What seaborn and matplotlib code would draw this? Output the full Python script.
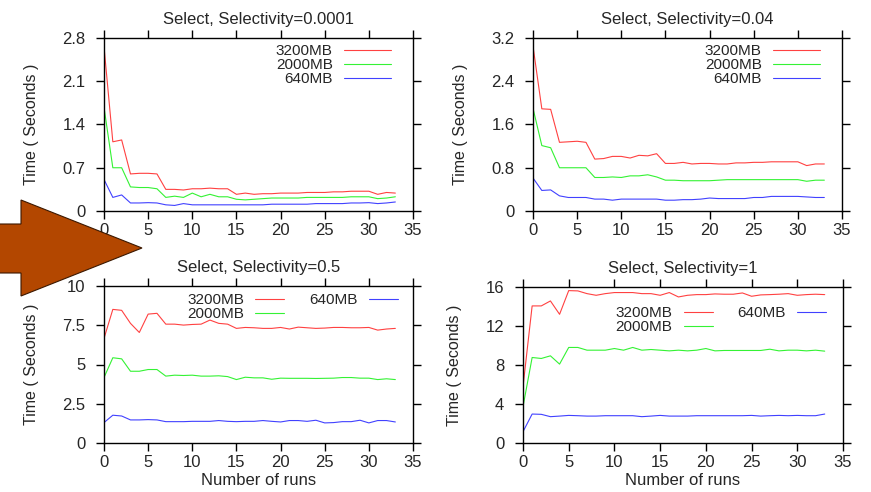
#!/usr/bin/env python3
#
# Select query run times over repeated runs, four selectivities
#
import numpy as np
import pandas as pd
import matplotlib
matplotlib.use('Agg')
import matplotlib.pyplot as plt
from matplotlib.patches import Polygon
import seaborn as sns

runs = list(range(34))
sizes = ['3200MB', '2000MB', '640MB']

# Selectivity = 0.0001
sel_0001_3200 = [2.66, 1.12, 1.15, 0.60, 0.61, 0.61, 0.60, 0.35, 0.35, 0.34,
                 0.36, 0.36, 0.37, 0.36, 0.36, 0.27, 0.29, 0.27, 0.28, 0.28,
                 0.29, 0.29, 0.29, 0.30, 0.30, 0.30, 0.31, 0.31, 0.32, 0.32,
                 0.32, 0.27, 0.30, 0.29]
sel_0001_2000 = [1.68, 0.70, 0.70, 0.39, 0.38, 0.38, 0.36, 0.22, 0.24, 0.22,
                 0.29, 0.23, 0.27, 0.23, 0.23, 0.19, 0.18, 0.19, 0.20, 0.21,
                 0.21, 0.21, 0.21, 0.22, 0.22, 0.22, 0.22, 0.22, 0.23, 0.23,
                 0.23, 0.20, 0.21, 0.23]
sel_0001_640 = [0.51, 0.22, 0.26, 0.13, 0.13, 0.135, 0.13, 0.10, 0.09, 0.12,
                0.10, 0.10, 0.10, 0.10, 0.10, 0.10, 0.10, 0.10, 0.10, 0.11,
                0.11, 0.11, 0.11, 0.11, 0.12, 0.12, 0.12, 0.12, 0.13, 0.13,
                0.135, 0.12, 0.13, 0.146]

# Selectivity = 0.04
sel_04_3200 = [3.05, 1.89, 1.88, 1.27, 1.28, 1.29, 1.27, 0.96, 0.97, 1.01,
               1.01, 0.98, 1.03, 1.02, 1.06, 0.88, 0.88, 0.90, 0.87, 0.88,
               0.88, 0.87, 0.87, 0.89, 0.89, 0.90, 0.90, 0.91, 0.91, 0.91,
               0.91, 0.84, 0.87, 0.87]
sel_04_2000 = [1.90, 1.21, 1.17, 0.80, 0.80, 0.80, 0.80, 0.62, 0.62, 0.63,
               0.62, 0.65, 0.65, 0.67, 0.63, 0.57, 0.57, 0.56, 0.56, 0.56,
               0.56, 0.57, 0.58, 0.58, 0.58, 0.58, 0.58, 0.58, 0.58, 0.58,
               0.58, 0.55, 0.57, 0.57]
sel_04_640 = [0.61, 0.38, 0.39, 0.28, 0.25, 0.25, 0.25, 0.22, 0.22, 0.20,
              0.22, 0.22, 0.22, 0.22, 0.22, 0.20, 0.20, 0.21, 0.21, 0.22,
              0.24, 0.23, 0.23, 0.23, 0.23, 0.25, 0.25, 0.27, 0.27, 0.27,
              0.27, 0.26, 0.25, 0.25]

# Selectivity = 0.5
sel_5_3200 = [6.66, 8.51, 8.45, 7.62, 7.04, 8.21, 8.26, 7.57, 7.57, 7.51,
              7.55, 7.57, 7.83, 7.62, 7.57, 7.30, 7.36, 7.34, 7.30, 7.30,
              7.36, 7.26, 7.38, 7.34, 7.30, 7.32, 7.36, 7.36, 7.34, 7.34,
              7.36, 7.19, 7.26, 7.30]
sel_5_2000 = [4.17, 5.43, 5.36, 4.57, 4.57, 4.68, 4.68, 4.26, 4.32, 4.30,
              4.32, 4.26, 4.26, 4.28, 4.23, 4.04, 4.19, 4.15, 4.15, 4.06,
              4.13, 4.12, 4.12, 4.12, 4.11, 4.12, 4.13, 4.17, 4.17, 4.13,
              4.13, 4.04, 4.09, 4.04]
sel_5_640 = [1.30, 1.77, 1.72, 1.47, 1.47, 1.49, 1.47, 1.36, 1.36, 1.36,
             1.38, 1.38, 1.38, 1.43, 1.38, 1.36, 1.38, 1.38, 1.43, 1.38,
             1.34, 1.43, 1.43, 1.38, 1.45, 1.28, 1.30, 1.36, 1.36, 1.45,
             1.28, 1.43, 1.43, 1.34]

# Selectivity = 1
sel_1_3200 = [5.77, 14.06, 14.06, 14.57, 13.20, 15.63, 15.60, 15.32, 15.15,
              15.32, 15.43, 15.43, 15.43, 15.32, 15.32, 15.15, 15.43, 14.98,
              15.15, 15.22, 15.22, 15.29, 15.26, 15.26, 15.39, 15.05, 15.19,
              15.22, 15.26, 15.32, 15.15, 15.22, 15.26, 15.22]
sel_1_2000 = [3.72, 8.77, 8.67, 8.94, 8.09, 9.80, 9.80, 9.52, 9.52, 9.52,
              9.69, 9.52, 9.80, 9.52, 9.59, 9.52, 9.45, 9.52, 9.45, 9.52,
              9.69, 9.45, 9.49, 9.49, 9.49, 9.49, 9.49, 9.62, 9.45, 9.52,
              9.52, 9.45, 9.52, 9.42]
sel_1_640 = [1.16, 2.97, 2.94, 2.70, 2.76, 2.83, 2.80, 2.76, 2.76, 2.80,
             2.80, 2.80, 2.80, 2.70, 2.76, 2.83, 2.76, 2.76, 2.76, 2.80,
             2.80, 2.80, 2.80, 2.80, 2.80, 2.83, 2.76, 2.80, 2.83, 2.80,
             2.83, 2.80, 2.80, 2.97]

titles = ['Select, Selectivity=0.0001', 'Select, Selectivity=0.04',
          'Select, Selectivity=0.5', 'Select, Selectivity=1']
series = [
    [sel_0001_3200, sel_0001_2000, sel_0001_640],
    [sel_04_3200, sel_04_2000, sel_04_640],
    [sel_5_3200, sel_5_2000, sel_5_640],
    [sel_1_3200, sel_1_2000, sel_1_640],
]
yticks = [
    [0, 0.7, 1.4, 2.1, 2.8],
    [0, 0.8, 1.6, 2.4, 3.2],
    [0, 2.5, 5, 7.5, 10],
    [0, 4, 8, 12, 16],
]
ytick_labels = [
    ['0', '0.7', '1.4', '2.1', '2.8'],
    ['0', '0.8', '1.6', '2.4', '3.2'],
    ['0', '2.5', '5', '7.5', '10'],
    ['0', '4', '8', '12', '16'],
]
xticks = [0, 5, 10, 15, 20, 25, 30, 35]

palette = {'3200MB': '#ff2020', '2000MB': '#10f010', '640MB': '#2020ff'}

sns.set_style('ticks')
plt.rcParams['font.family'] = ['Liberation Sans', 'DejaVu Sans']
fs = 12
leg_fs = 11

W, H = 871, 492
fig = plt.figure(figsize=(W / 100, H / 100), dpi=100)


def px_box(x0, x1, ytop, ybot):
    return [x0 / W, 1 - ybot / H, (x1 - x0) / W, (ybot - ytop) / H]


boxes = [
    px_box(104, 413, 38, 211),
    px_box(533, 842, 38, 211),
    px_box(104, 413, 286, 443),
    px_box(523, 843, 287, 443),
]

# legend settings per panel: ncol, anchor, handle length
leg_opts = [
    dict(ncol=1, bbox_to_anchor=(0.955, 1.01), handlelength=3.1),
    dict(ncol=1, bbox_to_anchor=(0.955, 1.01), handlelength=3.1),
    dict(ncol=2, bbox_to_anchor=(0.975, 1.005), handlelength=1.9),
    dict(ncol=2, bbox_to_anchor=(0.972, 0.925), handlelength=1.9),
]

for i in range(4):
    ax = fig.add_axes(boxes[i])
    df = pd.DataFrame({
        'run': runs * 3,
        'time': np.concatenate(series[i]),
        'size': np.repeat(sizes, len(runs)),
    })
    sns.lineplot(data=df, x='run', y='time', hue='size', hue_order=sizes,
                 palette=palette, linewidth=0.8, alpha=0.85, ax=ax)

    ax.set_xlim(0, 35)
    ax.set_ylim(yticks[i][0], yticks[i][-1])
    ax.set_xticks(xticks)
    ax.set_yticks(yticks[i])
    ax.set_yticklabels(ytick_labels[i])
    ax.tick_params(direction='out', length=5.5, width=1, top=True,
                   right=True, labelsize=fs, color='black')
    ax.tick_params(axis='x', pad=3)
    ax.tick_params(axis='y', pad=8)
    for s in ax.spines.values():
        s.set_visible(True)
        s.set_linewidth(1)
        s.set_color('black')
    ax.set_title(titles[i], fontsize=fs, pad=10)
    ax.set_ylabel('Time ( Seconds )', fontsize=11.5, labelpad=17)
    if i >= 2:
        ax.set_xlabel('Number of runs', fontsize=fs, labelpad=2)
    else:
        ax.set_xlabel('')

    handles, labels = ax.get_legend_handles_labels()
    ax.get_legend().remove()
    ax.legend(handles, labels, loc='upper right', frameon=False,
              markerfirst=False, borderpad=0, labelspacing=0.0,
              handletextpad=0.75, columnspacing=1.6, fontsize=leg_fs,
              **leg_opts[i])

# Big orange arrow pointing at the first panel
arrow_px = [(-3, 224), (21, 224), (21, 200), (142, 248), (21, 296),
            (21, 273), (-3, 273)]
arrow = Polygon([(x / W, 1 - y / H) for x, y in arrow_px], closed=True,
                transform=fig.transFigure, facecolor='#b34700',
                edgecolor='#3b1800', linewidth=0.8, zorder=10)
fig.add_artist(arrow)

plt.savefig('out.png', dpi=100)
